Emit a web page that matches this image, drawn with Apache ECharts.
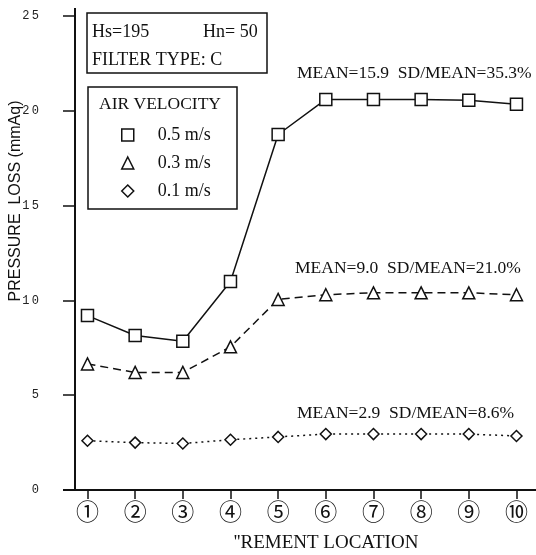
<!DOCTYPE html>
<html><head><meta charset="utf-8">
<script src="https://cdn.jsdelivr.net/npm/echarts@6/dist/echarts.min.js"></script>
<style>html,body{margin:0;padding:0;background:#fff}#c{width:536px;height:555px}</style>
</head><body><div id="c"></div>
<script>
// ---- data ----
const locations = [1,2,3,4,5,6,7,8,9,10];
const locationLabels = ['①','②','③','④','⑤','⑥','⑦','⑧','⑨','⑩'];
const seriesNames = ['0.5 m/s','0.3 m/s','0.1 m/s'];
const v05 = [9.2, 8.15, 7.85, 11.0, 18.75, 20.6, 20.6, 20.6, 20.55, 20.35];
const v03 = [6.65, 6.2, 6.2, 7.55, 10.05, 10.3, 10.4, 10.4, 10.4, 10.3];
const v01 = [2.6, 2.5, 2.45, 2.65, 2.8, 2.95, 2.95, 2.95, 2.95, 2.85];
const yTicks = [0,5,10,15,20,25];
const annotations = ['MEAN=15.9  SD/MEAN=35.3%','MEAN=9.0  SD/MEAN=21.0%','MEAN=2.9  SD/MEAN=8.6%'];
const infoLines = ['Hs=195','Hn= 50','FILTER TYPE: C'];
const legendTitle = 'AIR VELOCITY';
const yName = 'PRESSURE  LOSS (mmAq)';
const xName = "''REMENT LOCATION";

const ink = '#111';
const serif = '"Liberation Serif", "DejaVu Serif", serif';
function pairs(vals){ return vals.map((v,i)=>[locations[i], v]); }
const chart = echarts.init(document.getElementById('c'), null, {renderer:'canvas'});
const markerStyle = {color:'#fff', borderColor:ink, borderWidth:1.5};
chart.setOption({
  animation:false,
  backgroundColor:'#fff',
  grid:{left:75, right:0, top:16, bottom:65},
  xAxis:{
    type:'value', min:0.738, max:10.41,
    axisLine:{lineStyle:{color:ink, width:2}},
    axisTick:{show:true, inside:false, length:9, customValues:locations, lineStyle:{color:ink, width:1.5}},
    axisLabel:{customValues:locations, margin:10, fontSize:23, color:ink,
      fontFamily:'"Noto Sans CJK JP", sans-serif',
      formatter:v=>locationLabels[locations.indexOf(Math.round(v))] || ''},
    splitLine:{show:false}
  },
  yAxis:{
    type:'value', min:0, max:25, interval:5,
    axisLine:{show:true, lineStyle:{color:ink, width:2}},
    axisTick:{show:true, length:12, lineStyle:{color:ink, width:1.5}},
    axisLabel:{margin:36, fontSize:12, color:'#222', fontFamily:'"Liberation Mono", monospace',
      formatter:v=>String(v).split('').join('\u2009')},
    splitLine:{show:false}
  },
  legend:{
    orient:'vertical', left:116, top:121, itemWidth:12, itemHeight:12, itemGap:10,
    textStyle:{fontFamily:serif, fontSize:18, color:ink, padding:[0,0,0,19]},
    data:[
      {name:seriesNames[0], icon:'rect', itemStyle:markerStyle},
      {name:seriesNames[1], icon:'triangle', itemStyle:markerStyle},
      {name:seriesNames[2], icon:'diamond', itemStyle:markerStyle}
    ]
  },
  series:[
    {name:seriesNames[0], type:'line', data:pairs(v05), symbol:'rect', symbolSize:12,
      lineStyle:{color:ink, width:1.5, type:'solid'}, itemStyle:markerStyle},
    {name:seriesNames[1], type:'line', data:pairs(v03), symbol:'triangle', symbolSize:12,
      lineStyle:{color:ink, width:1.5, type:[8,5]}, itemStyle:markerStyle},
    {name:seriesNames[2], type:'line', data:pairs(v01), symbol:'diamond', symbolSize:11,
      lineStyle:{color:ink, width:1.5, type:[2,4]}, itemStyle:markerStyle}
  ],
  graphic:[
    {type:'line', shape:{x1:63,y1:490,x2:75,y2:490}, style:{stroke:ink, lineWidth:2}},
    {type:'line', shape:{x1:75,y1:8,x2:75,y2:17}, style:{stroke:ink, lineWidth:2}},
    {type:'text', x:16, y:201, rotation:Math.PI/2, style:{text:yName, fontFamily:'"Liberation Sans", sans-serif', fontSize:16, fill:ink, align:'center', verticalAlign:'middle'}},
    {type:'text', x:326, y:543, style:{text:xName, fontFamily:serif, fontSize:19, fill:ink, align:'center', verticalAlign:'middle'}},
    {type:'rect', shape:{x:87, y:13, width:180, height:60}, style:{fill:'none', stroke:ink, lineWidth:1.5}},
    {type:'text', x:92, y:32, style:{text:infoLines[0], fontFamily:serif, fontSize:18, fill:ink, verticalAlign:'middle'}},
    {type:'text', x:203, y:32, style:{text:infoLines[1], fontFamily:serif, fontSize:18, fill:ink, verticalAlign:'middle'}},
    {type:'text', x:92, y:60, style:{text:infoLines[2], fontFamily:serif, fontSize:18, fill:ink, verticalAlign:'middle'}},
    {type:'rect', shape:{x:88, y:87, width:149, height:122}, style:{fill:'none', stroke:ink, lineWidth:1.5}},
    {type:'text', x:160, y:104, style:{text:legendTitle, fontFamily:serif, fontSize:17.5, fill:ink, align:'center', verticalAlign:'middle'}},
    {type:'text', x:297, y:73, style:{text:annotations[0], fontFamily:serif, fontSize:17.5, fill:ink, verticalAlign:'middle'}},
    {type:'text', x:295, y:268, style:{text:annotations[1], fontFamily:serif, fontSize:17.5, fill:ink, verticalAlign:'middle'}},
    {type:'text', x:297, y:413, style:{text:annotations[2], fontFamily:serif, fontSize:17.5, fill:ink, verticalAlign:'middle'}}
  ]
});
</script></body></html>
